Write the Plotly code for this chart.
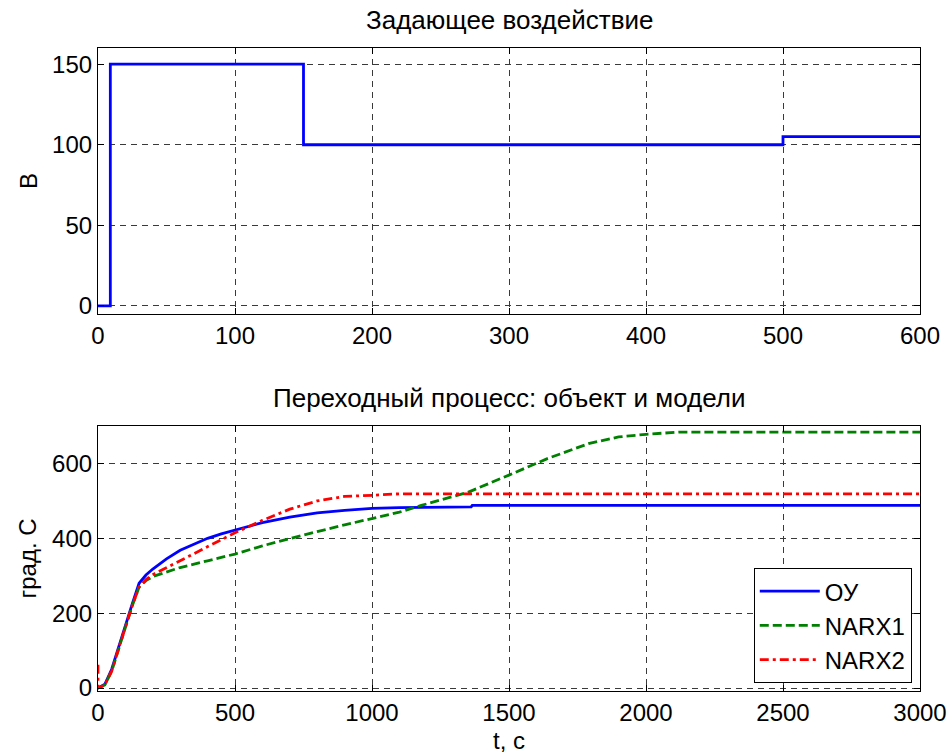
import plotly.graph_objects as go
from plotly.subplots import make_subplots

# Reference input (setpoint), piecewise constant
ref_t = [0, 9, 150, 500, 600]
ref_v = [0, 150, 100, 105, 105]

# Plant response (ОУ)
plant_t = [0, 25, 50, 75, 100, 125, 150, 175, 200, 250, 300, 350, 400, 450, 500,
           600, 700, 800, 900, 1000, 1100, 1200, 1362, 1366, 2000, 3000]
plant_v = [0, 10, 50, 110, 170, 225, 280, 302, 318, 345, 368, 385, 400, 412, 422,
           442, 457, 468, 475, 480, 482, 483, 484, 488, 488, 488]

# NARX1 model response
narx1_t = [0, 25, 50, 75, 100, 125, 150, 175, 200, 300, 400, 500, 600, 700, 800,
           900, 1000, 1100, 1180, 1350, 1500, 1640, 1790, 1900, 2000, 2120, 2300, 3000]
narx1_v = [0, 8, 45, 105, 165, 220, 270, 287, 298, 322, 340, 358, 380, 400, 418,
           436, 453, 470, 488, 523, 569, 613, 653, 671, 678, 684, 684, 684]

# NARX2 model response
narx2_t = [0, 0, 25, 50, 75, 100, 125, 150, 175, 200, 250, 300, 400, 500, 600, 700,
           800, 900, 1000, 1100, 1200, 3000]
narx2_v = [62, 0, 8, 45, 105, 165, 220, 270, 290, 303, 322, 340, 378, 415, 448, 478,
           500, 512, 515, 519, 519, 519]

FONT = "Liberation Sans, Arial, sans-serif"
GRID = "#3a3a3a"
TICK_SIZE = 24
TEXT_SIZE = 24
TITLE_SIZE = 26

fig = make_subplots(rows=2, cols=1, vertical_spacing=0.174)

fig.add_trace(go.Scatter(x=ref_t, y=ref_v, mode="lines", line_shape="hv",
                         line=dict(color="#0000ff", width=2.8), showlegend=False),
              row=1, col=1)

fig.add_trace(go.Scatter(x=plant_t, y=plant_v, mode="lines", name="ОУ",
                         line=dict(color="#0000ff", width=2.8)), row=2, col=1)
fig.add_trace(go.Scatter(x=narx1_t, y=narx1_v, mode="lines", name="NARX1",
                         line=dict(color="#008000", width=2.8, dash="9px,4px")),
              row=2, col=1)
fig.add_trace(go.Scatter(x=narx2_t, y=narx2_v, mode="lines", name="NARX2",
                         line=dict(color="#ff0000", width=2.8, dash="9px,4px,3px,4px")),
              row=2, col=1)

axis_style = dict(showline=True, linecolor="black", linewidth=1.2, mirror="ticks",
                  ticks="inside", ticklen=6, tickcolor="black", automargin=False,
                  showgrid=True, gridcolor=GRID, griddash="6px,5px", gridwidth=1,
                  zeroline=False, tickfont=dict(family=FONT, size=TICK_SIZE, color="black"))

fig.update_xaxes(**axis_style)
fig.update_yaxes(**axis_style)

fig.update_xaxes(range=[0, 600], tickvals=[0, 100, 200, 300, 400, 500, 600], row=1, col=1)
fig.update_yaxes(range=[-5, 160], tickvals=[0, 50, 100, 150], row=1, col=1)
fig.update_xaxes(range=[0, 3000], tickvals=[0, 500, 1000, 1500, 2000, 2500, 3000], row=2, col=1)
fig.update_yaxes(range=[-8, 700], tickvals=[0, 200, 400, 600], row=2, col=1)

fig.update_layout(
    width=952, height=755,
    margin=dict(l=98, r=32, t=48, b=64),
    paper_bgcolor="white", plot_bgcolor="white",
    font=dict(family=FONT, size=TEXT_SIZE, color="black"),
    legend=dict(x=0.990, y=0.0124, xanchor="right", yanchor="bottom",
                bordercolor="black", borderwidth=1, bgcolor="white",
                font=dict(family=FONT, size=TEXT_SIZE), tracegroupgap=0,
                itemwidth=60),
)
fig.layout.xaxis.domain = [0, 1]
fig.layout.xaxis2.domain = [0, 1]
fig.layout.yaxis.domain = [0.5863, 1.0]
fig.layout.yaxis2.domain = [0.0, 0.412]

titles = [
    dict(text="Задающее воздействие", x=0.5, y=1.0, yshift=28, size=TITLE_SIZE),
    dict(text="Переходный процесс: объект и модели", x=0.5, y=0.412, yshift=28,
         size=TITLE_SIZE),
    dict(text="t, с", x=0.5, y=0.0, yshift=-49, size=TEXT_SIZE),
]
for a in titles:
    size = a.pop("size")
    fig.add_annotation(xref="paper", yref="paper", showarrow=False,
                       xanchor="center", yanchor="middle",
                       font=dict(family=FONT, size=size, color="black"), **a)

fig.add_annotation(text="В", xref="paper", yref="paper", x=0, xshift=-70,
                   y=(0.5863 + 1.0) / 2, textangle=-90, showarrow=False,
                   xanchor="center", yanchor="middle",
                   font=dict(family=FONT, size=TEXT_SIZE, color="black"))
fig.add_annotation(text="град. С", xref="paper", yref="paper", x=0, xshift=-70,
                   y=0.206, textangle=-90, showarrow=False,
                   xanchor="center", yanchor="middle",
                   font=dict(family=FONT, size=TEXT_SIZE, color="black"))

fig.write_html("out.html")
